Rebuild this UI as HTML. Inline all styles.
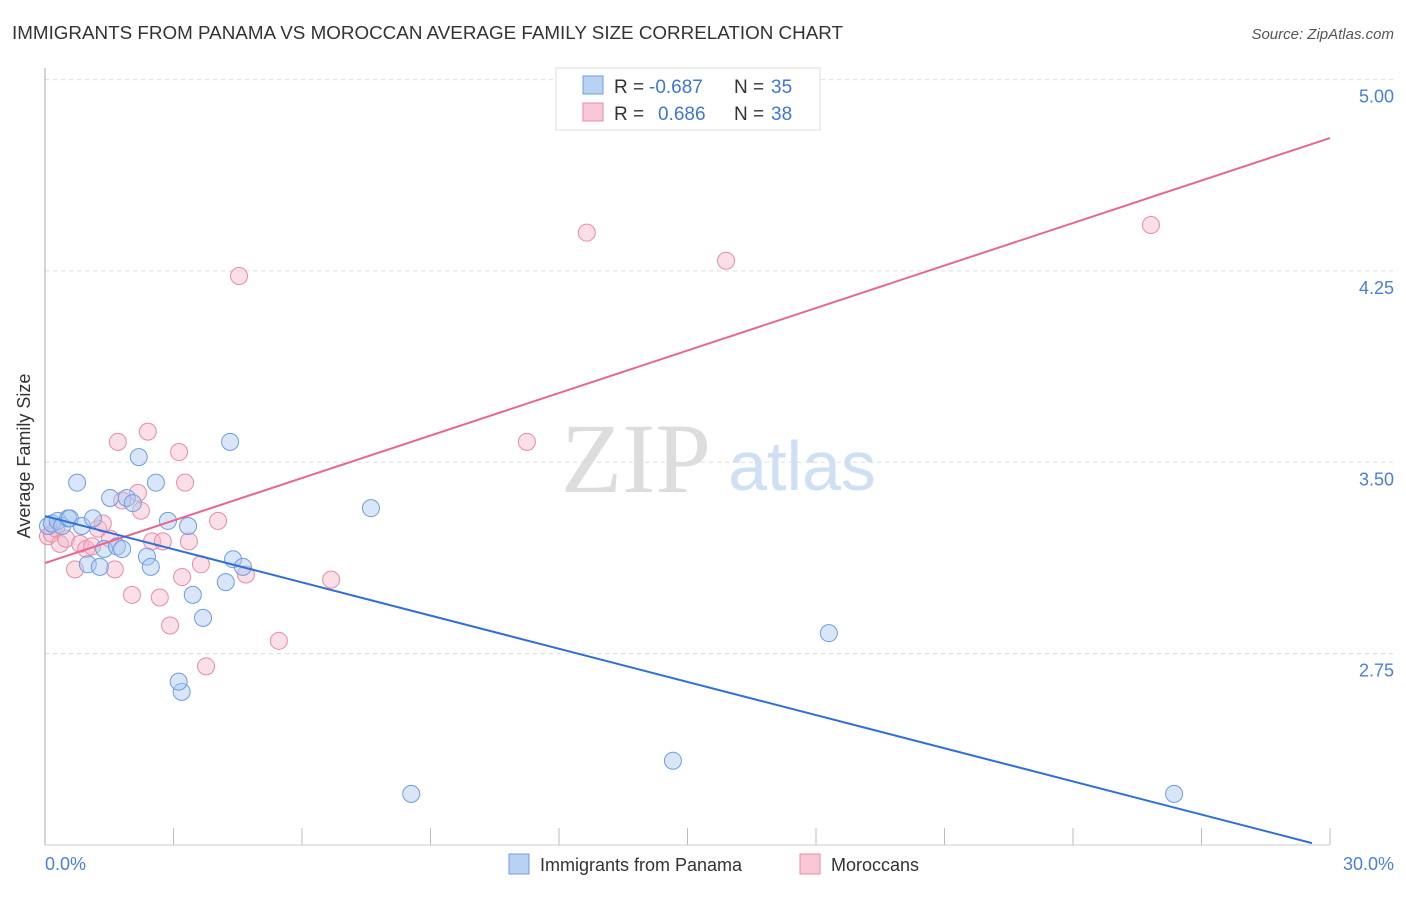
<!DOCTYPE html>
<html><head><meta charset="utf-8"><style>
body{margin:0;background:#fff;font-family:"Liberation Sans",sans-serif}
</style></head><body>
<svg width="1406" height="892" font-family="Liberation Sans, sans-serif">
<text x="12" y="39" font-size="18" fill="#333" textLength="831" lengthAdjust="spacingAndGlyphs">IMMIGRANTS FROM PANAMA VS MOROCCAN AVERAGE FAMILY SIZE CORRELATION CHART</text>
<text x="1394" y="39" font-size="15" fill="#555" text-anchor="end" font-style="italic">Source: ZipAtlas.com</text>
<g id="grid"></g>
<line x1="45" y1="68" x2="45" y2="845" stroke="#aaa"/>
<line x1="45" y1="845" x2="1330" y2="845" stroke="#ccc"/>
<text x="636" y="492" font-size="100" fill="#ddd" style="font-family:'Liberation Serif',serif" text-anchor="middle">ZIP</text>
<text x="802" y="490" font-size="70" fill="#cfe0f4" text-anchor="middle">atlas</text>
<g id="marks"></g>
<text x="30" y="456" font-size="18" fill="#333" transform="rotate(-90 30 456)" text-anchor="middle">Average Family Size</text>
<text x="45" y="870" font-size="18" fill="#4a7fd6">0.0%</text>
<text x="1394" y="870" font-size="18" fill="#4a7fd6" text-anchor="end">30.0%</text>
<rect x="556" y="68" width="264" height="62" fill="#fff" stroke="#ddd"/>
<rect x="583" y="76" width="20" height="18" fill="#b8d2f4" stroke="#6d9de0"/>
<rect x="583" y="103" width="20" height="18" fill="#f9c7d5" stroke="#ea8aa8"/>
<g font-size="19">
<text x="614" y="93" fill="#333">R =</text><text x="649" y="93" fill="#3d76d6">-0.687</text>
<text x="734" y="93" fill="#333">N =</text><text x="771" y="93" fill="#3d76d6">35</text>
</g>
<g font-size="19">
<text x="614" y="120" fill="#333">R =</text><text x="658" y="120" fill="#3d76d6">0.686</text>
<text x="734" y="120" fill="#333">N =</text><text x="771" y="120" fill="#3d76d6">38</text>
</g>
<rect x="509" y="854" width="20" height="20" fill="#b8d2f4" stroke="#6d9de0"/>
<text x="540" y="871" font-size="18" fill="#333">Immigrants from Panama</text>
<rect x="800" y="854" width="20" height="20" fill="#f9c7d5" stroke="#ea8aa8"/>
<text x="831" y="871" font-size="18" fill="#333">Moroccans</text>
</svg>
<script>
const yTicks=[5.00,4.25,3.50,2.75];
const xTickPcts=[0,3,6,9,12,15,18,21,24,27,30];
const panamaX=[0.07,0.16,0.30,0.40,0.54,0.58,0.75,0.86,1.00,1.12,1.28,1.38,1.52,1.68,1.80,1.91,2.05,2.19,2.38,2.47,2.59,2.87,3.19,3.12,3.34,3.45,3.69,4.22,4.32,4.39,4.62,7.61,8.55,14.66,18.30,26.36];
const panamaY=[3.25,3.26,3.27,3.25,3.28,3.28,3.42,3.25,3.10,3.28,3.09,3.16,3.36,3.17,3.16,3.36,3.34,3.52,3.13,3.09,3.42,3.27,2.60,2.64,3.25,2.98,2.89,3.03,3.58,3.12,3.09,3.32,2.20,2.33,2.83,2.20];
const morX=[0.07,0.16,0.26,0.35,0.49,0.70,0.82,0.96,1.10,1.24,1.35,1.52,1.63,1.70,1.80,2.03,2.17,2.24,2.40,2.50,2.68,2.75,2.92,3.13,3.20,3.27,3.36,3.64,3.76,4.04,4.53,4.69,5.46,6.68,11.25,12.65,15.90,25.82];
const morY=[3.21,3.22,3.24,3.18,3.20,3.08,3.18,3.16,3.17,3.24,3.26,3.20,3.08,3.58,3.35,2.98,3.38,3.31,3.62,3.19,2.97,3.19,2.86,3.54,3.05,3.42,3.19,3.10,2.70,3.27,4.23,3.06,2.80,3.04,3.58,4.40,4.29,4.43];
const panamaTrend=[3.289,2.007,29.58];
const morTrend=[3.105,4.771,30];
const NS="http://www.w3.org/2000/svg";
const X=p=>45+p/30*1285, Y=v=>79.6+(5-v)*255.1;
const grid=document.getElementById('grid'), marks=document.getElementById('marks');
function mk(tag,attrs,parent){const e=document.createElementNS(NS,tag);for(const k in attrs)e.setAttribute(k,attrs[k]);parent.appendChild(e);return e;}
yTicks.forEach(v=>{
 const l=mk('line',{x1:45,x2:1394,y1:Y(v),y2:Y(v),stroke:'#ddd','stroke-dasharray':'4,4'},grid);
 
 
 const t=mk('text',{x:1394,y:Y(v)+23,'font-size':18,fill:'#4a7fd6','text-anchor':'end'},grid);
 t.textContent=v.toFixed(2);
 
 
});
xTickPcts.forEach(p=>{
 const l=mk('line',{x1:X(p),x2:X(p),y1:828,y2:845,stroke:'#bbb'},grid);
 
 
});
function pts(xs,ys,fill,stroke,name){xs.forEach((x,i)=>{
 const c=mk('circle',{cx:X(x),cy:Y(ys[i]),r:8.5,fill:fill,'fill-opacity':0.45,stroke:stroke,'stroke-width':1},marks);
 
 
});}
pts(morX,morY,'#f5b8c9','#ea8aa8','moroccan-point');
pts(panamaX,panamaY,'#a9c8f0','#6d9de0','panama-point');
const l1=mk('line',{x1:X(0),y1:Y(morTrend[0]),x2:X(morTrend[2]),y2:Y(morTrend[1]),stroke:'#e8668f','stroke-width':2},marks);


const l2=mk('line',{x1:X(0),y1:Y(panamaTrend[0]),x2:X(panamaTrend[2]),y2:Y(panamaTrend[1]),stroke:'#2e6fd8','stroke-width':2},marks);


</script>
</body></html>
